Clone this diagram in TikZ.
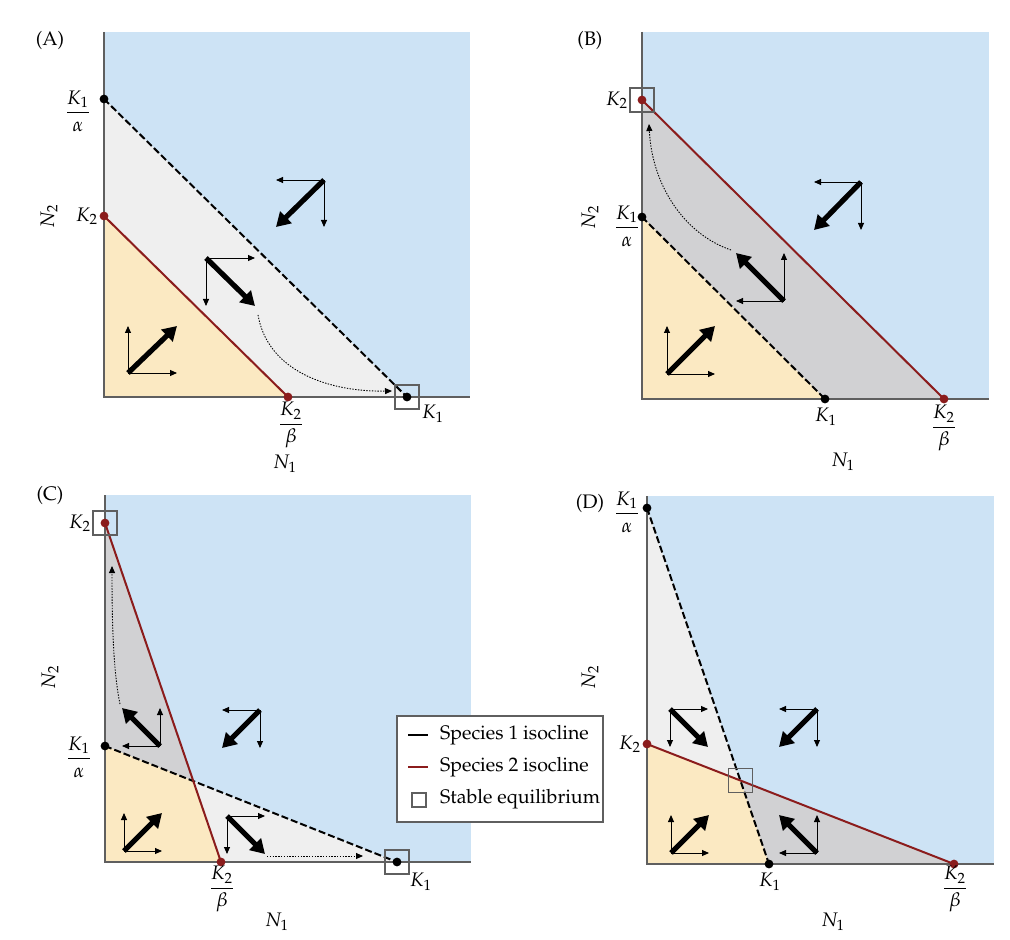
\documentclass[tikz,border=0pt]{standalone}
\usepackage[T1]{fontenc}
\usepackage{amsmath}
\usepackage{mathpazo}
\usetikzlibrary{arrows.meta}

\definecolor{regblue}{HTML}{CDE3F5}
\definecolor{regyellow}{HTML}{FBE9C2}
\definecolor{reglight}{HTML}{EFEFEF}
\definecolor{regdark}{HTML}{D1D1D3}
\definecolor{isored}{HTML}{8B1C1C}
\definecolor{axisgrey}{HTML}{5F5F5F}

% corner x, corner y, dx, dy
\newcommand{\flowset}[4]{%
  \draw[thinarr] (#1,#2) -- ++(#3,0);
  \draw[thinarr] (#1,#2) -- ++(0,#4);
  \draw[thickarr] (#1,#2) -- ++(#3,#4);}

\begin{document}
\begin{tikzpicture}[
    x=0.5pt, y=-0.5pt,
    every node/.style={font=\fontsize{9.8}{11}\selectfont},
    axis/.style={axisgrey, line width=0.7pt},
    iso1/.style={black, line width=1pt, dash pattern=on 3.5pt off 1.5pt},
    iso2/.style={isored, line width=1pt},
    eqbox/.style={draw=axisgrey, line width=0.6pt, minimum size=12pt, inner sep=0pt},
    thinarr/.style={-{Triangle[length=3.5pt,width=3pt]}, line width=0.45pt},
    thickarr/.style={-{Triangle[length=7pt,width=8pt]}, line width=2.6pt},
    pathline/.style={line width=0.45pt, dash pattern=on 0.7pt off 0.7pt, -{Triangle[length=3.5pt,width=3pt]}}
  ]
  \useasboundingbox (0,0) rectangle (1010,940);

  % (A)
  \coordinate (aO) at (104,397);
  \coordinate (aK1a) at (104,99);
  \coordinate (aK2) at (104,216);
  \coordinate (aK2b) at (288,397);
  \coordinate (aK1) at (407,397);
  \fill[regblue] (104,32) rectangle (470,397);
  \fill[reglight] (aO) -- (aK1a) -- (aK1) -- cycle;
  \fill[regyellow] (aO) -- (aK2) -- (aK2b) -- cycle;
  \draw[axis] (104,32) -- (aO) -- (470,397);
  \draw[iso1] (aK1a) -- (aK1);
  \draw[iso2] (aK2) -- (aK2b);
  \fill (aK1a) circle[radius=2.2pt];
  \fill (aK1) circle[radius=2.2pt];
  \fill[isored] (aK2) circle[radius=2.2pt];
  \fill[isored] (aK2b) circle[radius=2.2pt];
  \node[eqbox] (aEq) at (aK1) {};
  \draw[pathline] (258,315) .. controls (268,372) and (330,392) .. (392,391);
  \flowset{324}{180}{-48}{47}
  \flowset{206}{258}{49}{48}
  \flowset{128}{373}{49}{-47}
  \node (aTag) at (50,40) {(A)};
  \node (aK1aLab) at (78,111) {$\dfrac{K_1}{\alpha}$};
  \node (aK2Lab) at (87,216) {$K_2$};
  \node (aK2bLab) at (291,425) {$\dfrac{K_2}{\beta}$};
  \node (aK1Lab) at (433,414) {$K_1$};
  \node[rotate=90] (aN2) at (49,216) {$N_2$};
  \node (aN1) at (285,464) {$N_1$};

  % (B)
  \coordinate (bO) at (642,399);
  \coordinate (bK2) at (642,100);
  \coordinate (bK1a) at (642,217);
  \coordinate (bK1) at (825,399);
  \coordinate (bK2b) at (944,399);
  \fill[regblue] (642,32) rectangle (989,399);
  \fill[regdark] (bO) -- (bK2) -- (bK2b) -- cycle;
  \fill[regyellow] (bO) -- (bK1a) -- (bK1) -- cycle;
  \draw[axis] (642,32) -- (bO) -- (989,399);
  \draw[iso1] (bK1a) -- (bK1);
  \draw[iso2] (bK2) -- (bK2b);
  \fill (bK1a) circle[radius=2.2pt];
  \fill (bK1) circle[radius=2.2pt];
  \fill[isored] (bK2) circle[radius=2.2pt];
  \fill[isored] (bK2b) circle[radius=2.2pt];
  \node[eqbox] (bEq) at (bK2) {};
  \draw[pathline] (731,250) .. controls (684,234) and (652,185) .. (649,124);
  \flowset{861}{182}{-47}{48}
  \flowset{784}{301}{-48}{-48}
  \flowset{667}{374}{48}{-48}
  \node (bTag) at (590,40) {(B)};
  \node (bK2Lab) at (617,100) {$K_2$};
  \node (bK1aLab) at (627,226) {$\dfrac{K_1}{\alpha}$};
  \node (bK1Lab) at (826,417) {$K_1$};
  \node (bK2bLab) at (944,428) {$\dfrac{K_2}{\beta}$};
  \node[rotate=90] (bN2) at (590,217) {$N_2$};
  \node (bN1) at (843,462) {$N_1$};

  % (C)
  \coordinate (cO) at (105,862);
  \coordinate (cK2) at (105,523);
  \coordinate (cK1a) at (105,746);
  \coordinate (cK2b) at (221,862);
  \coordinate (cK1) at (397,862);
  \coordinate (cP) at (intersection of cK1a--cK1 and cK2--cK2b);
  \fill[regblue] (105,495) rectangle (471,862);
  \fill[reglight] (cO) -- (cK1a) -- (cK1) -- cycle;
  \fill[regdark] (cO) -- (cK2) -- (cK2b) -- cycle;
  \fill[regyellow] (cO) -- (cK1a) -- (cP) -- (cK2b) -- cycle;
  \draw[axis] (105,495) -- (cO) -- (471,862);
  \draw[iso1] (cK1a) -- (cK1);
  \draw[iso2] (cK2) -- (cK2b);
  \fill (cK1a) circle[radius=2.2pt];
  \fill (cK1) circle[radius=2.2pt];
  \fill[isored] (cK2) circle[radius=2.2pt];
  \fill[isored] (cK2b) circle[radius=2.2pt];
  \node[eqbox] (cEq1) at (cK2) {};
  \node[eqbox] (cEq2) at (cK1) {};
  \draw[pathline] (120,704) .. controls (113,670) and (112,620) .. (112,566);
  \draw[pathline] (267,856) -- (363,856);
  \flowset{160}{746}{-38}{-38}
  \flowset{260}{710}{-38}{38}
  \flowset{124}{851}{38}{-38}
  \flowset{227}{816}{38}{38}
  \node (cTag) at (50,495) {(C)};
  \node (cK2Lab) at (80,523) {$K_2$};
  \node (cK1aLab) at (79,757) {$\dfrac{K_1}{\alpha}$};
  \node (cK2bLab) at (222,889) {$\dfrac{K_2}{\beta}$};
  \node (cK1Lab) at (421,882) {$K_1$};
  \node[rotate=90] (cN2) at (50,677) {$N_2$};
  \node (cN1) at (277,922) {$N_1$};

  % (D)
  \coordinate (dO) at (647,864);
  \coordinate (dK1a) at (647,508);
  \coordinate (dK2) at (647,744);
  \coordinate (dK1) at (769,864);
  \coordinate (dK2b) at (954,864);
  \coordinate (dP) at (intersection of dK1a--dK1 and dK2--dK2b);
  \fill[regblue] (647,496) rectangle (994,864);
  \fill[reglight] (dO) -- (dK1a) -- (dK1) -- cycle;
  \fill[regdark] (dO) -- (dK2) -- (dK2b) -- cycle;
  \fill[regyellow] (dO) -- (dK2) -- (dP) -- (dK1) -- cycle;
  \draw[axis] (647,496) -- (dO) -- (994,864);
  \draw[iso1] (dK1a) -- (dK1);
  \draw[iso2] (dK2) -- (dK2b);
  \fill (dK1a) circle[radius=2.2pt];
  \fill (dK1) circle[radius=2.2pt];
  \fill[isored] (dK2) circle[radius=2.2pt];
  \fill[isored] (dK2b) circle[radius=2.2pt];
  \node[eqbox] (dEq) at (dP) {};
  \flowset{670}{709}{38}{38}
  \flowset{817}{709}{-38}{38}
  \flowset{671}{853}{38}{-38}
  \flowset{817}{853}{-38}{-38}
  \node (dTag) at (590,503) {(D)};
  \node (dK1aLab) at (627,512) {$\dfrac{K_1}{\alpha}$};
  \node (dK2Lab) at (630,744) {$K_2$};
  \node (dK1Lab) at (770,882) {$K_1$};
  \node (dK2bLab) at (955,889) {$\dfrac{K_2}{\beta}$};
  \node[rotate=90] (dN2) at (590,677) {$N_2$};
  \node (dN1) at (833,922) {$N_1$};

  % legend
  \draw[axis, fill=white] (397,716) rectangle (603,822);
  \draw[line width=1pt] (408,735) -- (428,735);
  \draw[isored, line width=1pt] (408,767) -- (428,767);
  \node[eqbox, minimum size=7pt] (legEq) at (419,800) {};
  \node[anchor=west] (leg1) at (433,735) {Species 1 isocline};
  \node[anchor=west] (leg2) at (433,767) {Species 2 isocline};
  \node[anchor=west] (leg3) at (433,799) {Stable equilibrium};
\end{tikzpicture}
\end{document}
